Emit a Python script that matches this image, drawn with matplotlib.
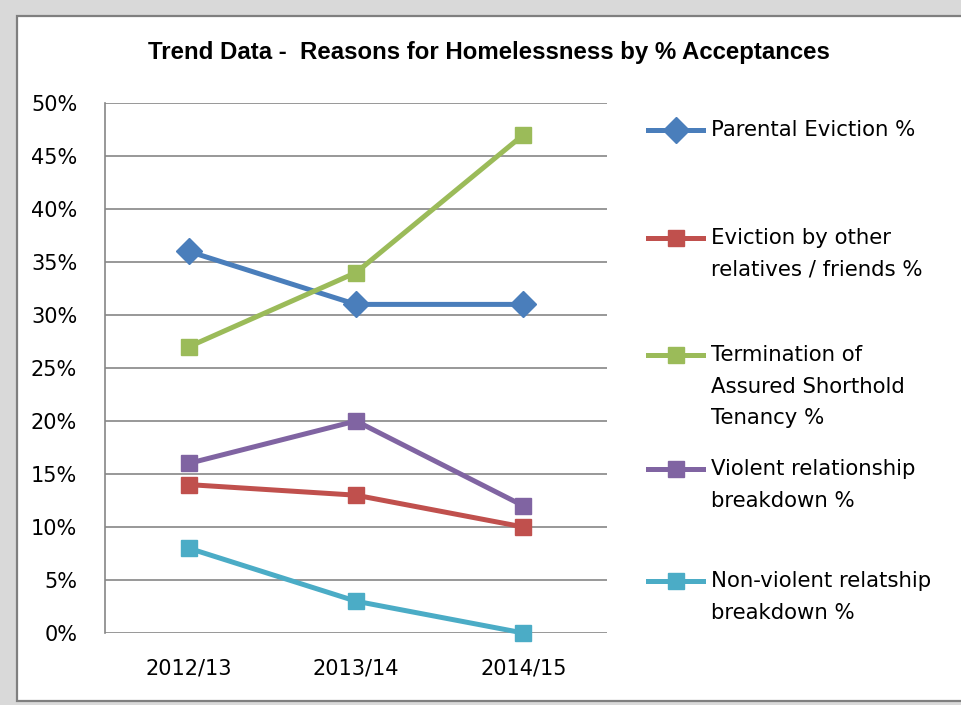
import matplotlib
matplotlib.use("Agg")
import matplotlib.pyplot as plt
from matplotlib.patches import Rectangle
from matplotlib.lines import Line2D
from matplotlib.ticker import FuncFormatter

# Daten
jahre = ["2012/13", "2013/14", "2014/15"]
parental = [36, 31, 31]
other_relatives = [14, 13, 10]
termination_ast = [27, 34, 47]
violent = [16, 20, 12]
non_violent = [8, 3, 0]

labels = ["Parental Eviction %",
          "Eviction by other\nrelatives / friends %",
          "Termination of\nAssured Shorthold\nTenancy %",
          "Violent relationship\nbreakdown %",
          "Non-violent relatship\nbreakdown %"]
farben = ["#4a7ebb", "#c0504d", "#9bbb59", "#8064a2", "#4bacc6"]
marker = ["D", "s", "s", "s", "s"]
reihen = [parental, other_relatives, termination_ast, violent, non_violent]

plt.rcParams["font.family"] = ["DejaVu Sans"]

fig = plt.figure(figsize=(9.62, 7.05), dpi=100)
fig.patch.set_facecolor("#d9d9d9")

# weisser Rahmen
fig.add_artist(Rectangle((17 / 962, 4 / 705), 1.0, 685 / 705,
                         transform=fig.transFigure, facecolor="white",
                         edgecolor="#7f7f7f", linewidth=1.6, zorder=0))

ax = fig.add_axes([105 / 962, 72 / 705, 502 / 962, 530 / 705])
ax.set_facecolor("none")

x = list(range(len(jahre)))
for werte, f, m in zip(reihen, farben, marker):
    ms = 13 if m == "D" else 11
    ax.plot(x, werte, color=f, linewidth=3.6, marker=m, markersize=ms,
            zorder=3, clip_on=False)

ax.set_xlim(-0.5, 2.5)
ax.set_ylim(0, 50)
ax.set_yticks(range(0, 51, 5))
ax.yaxis.set_major_formatter(FuncFormatter(lambda v, p: "%d%%" % v))
ax.set_xticks(x)
ax.set_xticklabels(jahre)
ax.grid(axis="y", color="#868686", linewidth=1.2)
ax.set_axisbelow(True)
for s in ["top", "right", "bottom"]:
    ax.spines[s].set_visible(False)
ax.spines["left"].set_color("#868686")
ax.spines["left"].set_linewidth(1.2)
ax.tick_params(axis="both", length=0, labelsize=15, colors="black")
ax.tick_params(axis="y", pad=20)
ax.tick_params(axis="x", pad=18)

fig.text(489 / 962, 1 - 53 / 705,
         "Trend Data -  Reasons for Homelessness by % Acceptances",
         ha="center", va="center", fontsize=17.3, fontweight="bold",
         family=["Liberation Sans", "DejaVu Sans"])

# Legende
leg_y = [130, 238, 355, 469, 581]
for lab, f, m, yy in zip(labels, farben, marker, leg_y):
    ms = 13 if m == "D" else 11
    yf = 1 - yy / 705
    fig.add_artist(Line2D([648 / 962, 703 / 962], [yf, yf],
                          transform=fig.transFigure, color=f, linewidth=3.6))
    fig.add_artist(Line2D([676 / 962], [yf], transform=fig.transFigure,
                          color=f, marker=m, markersize=ms))
    fig.text(711 / 962, 1 - (yy - 10) / 705, lab, ha="left", va="top",
             fontsize=15.3, linespacing=1.72)

plt.savefig("out.png", dpi=100, facecolor=fig.get_facecolor())
